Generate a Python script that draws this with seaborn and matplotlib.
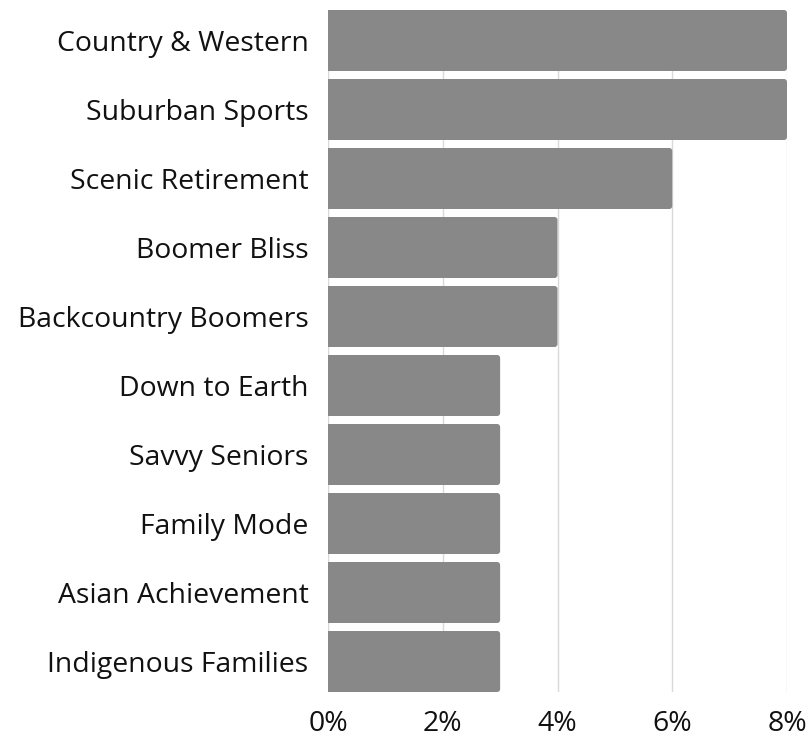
import matplotlib
matplotlib.use("Agg")
import matplotlib.pyplot as plt
import seaborn as sns
import pandas as pd
from matplotlib.patches import FancyBboxPatch
from matplotlib.ticker import FuncFormatter

segments = ["Country & Western", "Suburban Sports", "Scenic Retirement", "Boomer Bliss",
            "Backcountry Boomers", "Down to Earth", "Savvy Seniors", "Family Mode",
            "Asian Achievement", "Indigenous Families"]
shares = [8, 8, 6, 4, 4, 3, 3, 3, 3, 3]
x_ticks = [0, 2, 4, 6, 8]

df = pd.DataFrame({"segment": segments, "share": shares})

sns.set_style("white")
plt.rcParams["font.family"] = ["Open Sans", "DejaVu Sans"]

fig = plt.figure(figsize=(8.08, 7.41), dpi=100)
ax = fig.add_axes([328 / 808, 1 - 692 / 741, 459 / 808, 682 / 741])

bar_color = "#888888"
sns.barplot(data=df, x="share", y="segment", color=bar_color, saturation=1,
            width=61 / 69, ax=ax, zorder=2)

ax.set_xlim(0, 8)
ax.set_ylim(len(segments) - 0.5 - (1 - 61 / 69) / 2, -0.5 + (1 - 61 / 69) / 2)

# rounded right ends
px_x = 8 / 459
px_y = (ax.get_ylim()[0] - ax.get_ylim()[1]) / 682
r = 3 * px_x
for p in list(ax.patches):
    x0, y0, w, h = p.get_x(), p.get_y(), p.get_width(), p.get_height()
    p.set_width(w / 2)
    p.set_edgecolor("none")
    fb = FancyBboxPatch((x0, y0), w, h, boxstyle=f"round,pad=0,rounding_size={r}",
                        mutation_aspect=px_y / px_x, facecolor=bar_color,
                        edgecolor="none", zorder=2)
    ax.add_patch(fb)

ax.set_xticks(x_ticks)
ax.xaxis.set_major_formatter(FuncFormatter(lambda v, _: f"{v:.0f}%"))
ax.grid(axis="x", color="#d9d9d9", linewidth=1, zorder=0)
ax.set_axisbelow(True)
ax.set_xlabel("")
ax.set_ylabel("")
for s in ax.spines.values():
    s.set_visible(False)
ax.tick_params(axis="both", length=0, labelsize=20.4, colors="#111111")
ax.tick_params(axis="y", pad=14)
ax.tick_params(axis="x", pad=13)

fig.savefig("out.png", dpi=100)
